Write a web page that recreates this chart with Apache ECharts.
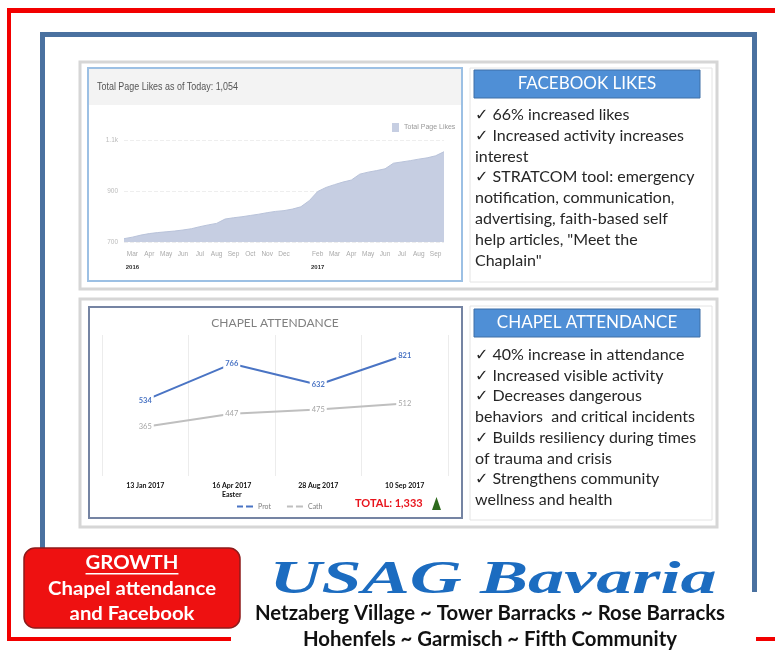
<!DOCTYPE html>
<html><head><meta charset="utf-8">
<script src="https://cdn.jsdelivr.net/npm/echarts@6.0.0/dist/echarts.min.js"></script>
<style>html,body{margin:0;padding:0;background:#fff}#c{width:775px;height:652px}</style>
</head><body><div id="c"></div>
<script>
// ---- Facebook page likes ----
const fbDates = ['2016-02-15','2016-03-01','2016-03-15','2016-04-01','2016-04-15','2016-05-01','2016-05-15',
  '2016-06-01','2016-06-15','2016-07-01','2016-07-15','2016-08-01','2016-08-15','2016-09-01','2016-09-15',
  '2016-10-01','2016-10-15','2016-11-01','2016-11-15','2016-12-01','2016-12-15','2017-01-01','2017-01-15',
  '2017-02-01','2017-02-15','2017-03-01','2017-03-15','2017-04-01','2017-04-15','2017-05-01','2017-05-15',
  '2017-06-01','2017-06-15','2017-07-01','2017-07-15','2017-08-01','2017-08-15','2017-09-01','2017-09-15'];
const fbLikes = [713,719,727,733,737,740,743,747,752,760,767,773,790,795,799,804,809,815,820,823,829,838,
  862,898,914,925,935,943,966,974,980,987,1009,1014,1019,1025,1030,1038,1054];
const monthNames = ['Jan','Feb','Mar','Apr','May','Jun','Jul','Aug','Sep','Oct','Nov','Dec'];
const yearLabelDates = ['2016-03-01','2017-02-01'];
const fbYTicks = [700, 900, 1100];
const fbTitle = 'Total Page Likes as of Today: 1,054';
const fbSeriesName = 'Total Page Likes';

// ---- Chapel attendance ----
const chapelDates = ['13 Jan 2017','16 Apr 2017\nEaster','28 Aug 2017','10 Sep 2017'];
const protValues = [534, 766, 632, 821];
const cathValues = [365, 447, 475, 512];
const chapelTitle = 'CHAPEL ATTENDANCE';
const chapelTotal = 'TOTAL: 1,333';

// ---- Slide texts ----
const fbHeader = 'FACEBOOK LIKES';
const fbBullets = ['✓ 66% increased likes','✓ Increased activity increases','interest','✓ STRATCOM tool: emergency',
  'notification, communication,','advertising, faith-based self','help articles, "Meet the','Chaplain"'];
const chapelHeader = 'CHAPEL ATTENDANCE';
const chapelBullets = ['✓ 40% increase in attendance','✓ Increased visible activity','✓ Decreases dangerous',
  'behaviors  and critical incidents','✓ Builds resiliency during times','of trauma and crisis',
  '✓ Strengthens community','wellness and health'];
const growthLines = ['GROWTH','Chapel attendance','and Facebook'];
const bannerTitle = 'USAG Bavaria';
const bannerLines = ['Netzaberg Village ~ Tower Barracks ~ Rose Barracks','Hohenfels ~ Garmisch ~ Fifth Community'];

const SANS = 'Lato, "Open Sans", "DejaVu Sans", sans-serif';
const NARROW = '"Liberation Sans", Arial, sans-serif';

const ctx = document.createElement('canvas').getContext('2d');
function measure(text, font) { ctx.font = font; return ctx.measureText(text).width; }
function fit(text, font, w) { return w / measure(text, font); }

const bannerFont = 'italic bold 46px "Liberation Serif", "DejaVu Serif", serif';
const titleFont = '11px ' + NARROW;
const growthFont = 'bold 19px ' + SANS;
const lineFont = 'bold 20px ' + SANS;
const bulletFont = '16px ' + SANS;
const growthScale = fit(growthLines[1], growthFont, 168);
const growthUnderline = measure(growthLines[0], growthFont) * growthScale;

function txt(text, x, y, font, fill, align, sx) {
  return {type:'text', z:5, x, y, scaleX: sx || 1,
    style:{text, x:0, y:0, font, fill, textAlign: align || 'left', textVerticalAlign:'middle'}};
}

const chart = echarts.init(document.getElementById('c'), null, {renderer: 'canvas'});

const elements = [
  // red frame
  {type:'rect', z:-10, shape:{x:7,y:8,width:768,height:5}, style:{fill:'#f20000'}},
  {type:'rect', z:-10, shape:{x:7,y:8,width:4,height:633}, style:{fill:'#f20000'}},
  {type:'rect', z:-10, shape:{x:7,y:637,width:224,height:4}, style:{fill:'#f20000'}},
  {type:'rect', z:-10, shape:{x:756,y:637,width:19,height:4}, style:{fill:'#f20000'}},
  // blue frame
  {type:'rect', z:-10, shape:{x:40,y:32,width:717,height:5}, style:{fill:'#4a71a0'}},
  {type:'rect', z:-10, shape:{x:40,y:32,width:5,height:516}, style:{fill:'#4a71a0'}},
  {type:'rect', z:-10, shape:{x:752,y:32,width:5,height:560}, style:{fill:'#4a71a0'}},
  // gray panels
  {type:'rect', z:-10, shape:{x:80,y:62,width:637,height:227}, style:{fill:'#fff',stroke:'#d6d6d6',lineWidth:3}},
  {type:'rect', z:-10, shape:{x:80,y:299,width:637,height:228}, style:{fill:'#fff',stroke:'#d6d6d6',lineWidth:3}},
  // facebook chart box
  {type:'rect', z:-9, shape:{x:88,y:68,width:374,height:213}, style:{fill:'#fff',stroke:'#9cc0e4',lineWidth:2}},
  {type:'rect', z:-9, shape:{x:89,y:69,width:372,height:36}, style:{fill:'#f3f3f3'}},
  txt(fbTitle, 97, 87, titleFont, '#555', 'left', fit(fbTitle, titleFont, 141)),
  // chapel chart box
  {type:'rect', z:-9, shape:{x:89,y:307,width:373,height:211}, style:{fill:'#fff',stroke:'#7584a3',lineWidth:2}},
  txt(chapelTitle, 275, 323, '12px ' + SANS, '#808080', 'center'),
  txt(chapelTotal, 355, 503, 'bold 11px ' + SANS, '#e8141c', 'left'),
  {type:'polygon', z:5, shape:{points:[[432,510],[441,510],[436.5,497]]}, style:{fill:'#2d6a1d'}},
  // text areas
  {type:'rect', z:-9, shape:{x:470,y:68,width:242,height:214}, style:{fill:'#fff',stroke:'#e4e4e4',lineWidth:1}},
  {type:'rect', z:-9, shape:{x:470,y:306,width:242,height:214}, style:{fill:'#fff',stroke:'#e4e4e4',lineWidth:1}},
  {type:'rect', z:-8, shape:{x:474,y:70,width:226,height:28}, style:{fill:'#4f8fd6',stroke:'#3e6ea6',lineWidth:1}},
  txt(fbHeader, 587, 84, '17px ' + SANS, '#fff', 'center'),
  {type:'text', z:5, style:{text:fbBullets.join('\n'), x:475, y:104.5, font:bulletFont, lineHeight:20.8, fill:'#262626', textVerticalAlign:'top'}},
  {type:'rect', z:-8, shape:{x:474,y:309,width:226,height:28}, style:{fill:'#4f8fd6',stroke:'#3e6ea6',lineWidth:1}},
  txt(chapelHeader, 587, 323, '17px ' + SANS, '#fff', 'center'),
  {type:'text', z:5, style:{text:chapelBullets.join('\n'), x:475, y:344.5, font:bulletFont, lineHeight:20.7, fill:'#262626', textVerticalAlign:'top'}},
  // growth box
  {type:'rect', z:-5, shape:{x:24,y:548,width:216,height:80,r:11}, style:{fill:'#ee1111',stroke:'#8e1b1b',lineWidth:1.5}},
  txt(growthLines[0], 132, 563, growthFont, '#fff', 'center', growthScale),
  {type:'rect', z:5, shape:{x:132 - growthUnderline/2, y:573, width:growthUnderline, height:1.5}, style:{fill:'#fff'}},
  txt(growthLines[1], 132, 589, growthFont, '#fff', 'center', growthScale),
  txt(growthLines[2], 132, 614, growthFont, '#fff', 'center', growthScale),
  // banner
  txt(bannerTitle, 493, 581, bannerFont, '#1c6cc0', 'center', fit(bannerTitle, bannerFont, 447)),
  txt(bannerLines[0], 490, 614, lineFont, '#111', 'center', fit(bannerLines[0], lineFont, 470)),
  txt(bannerLines[1], 490, 640, lineFont, '#111', 'center', fit(bannerLines[1], lineFont, 374))
];

const option = {
  animation: false,
  backgroundColor: '#ffffff',
  graphic: {elements},
  legend: [
    {data:[fbSeriesName], left:387, top:118, icon:'rect', itemWidth:7, itemHeight:9, itemGap:4,
     textStyle:{fontSize:7, color:'#999', fontFamily:NARROW}},
    {data:['Prot','Cath'], left:232, top:498, itemWidth:16, itemHeight:3, itemGap:16,
     icon:'path://M0,0h6v2h-6zM9,0h7v2h-7z',
     textStyle:{fontSize:7, color:'#808080', fontFamily:SANS}}
  ],
  grid: [
    {left:124, top:140, width:320, height:102},
    {left:102, top:335, width:346, height:141}
  ],
  xAxis: [
    {type:'category', gridIndex:0, data:fbDates, boundaryGap:false,
     axisLine:{show:false}, axisTick:{show:false},
     axisLabel:{
       interval:(i, v) => v.endsWith('-01'), fontSize:6.5, color:'#aaa', margin:9, fontFamily:NARROW,
       formatter:(v) => {
         const p = v.split('-'); const m = +p[1];
         if (m === 1) return '';
         const name = monthNames[m-1];
         return yearLabelDates.includes(v) ? name + '\n{yr|' + p[0] + '}' : name;
       },
       rich:{yr:{fontSize:6, fontWeight:'bold', color:'#333', padding:[6,0,0,0], fontFamily:NARROW}}
     },
     splitLine:{show:false}},
    {type:'category', gridIndex:1, data:chapelDates, boundaryGap:true,
     axisLine:{show:false}, axisTick:{show:false},
     axisLabel:{fontSize:7, fontWeight:'bold', color:'#111', margin:5, lineHeight:9, fontFamily:SANS},
     splitLine:{show:true, lineStyle:{color:'#ececec', width:1}}}
  ],
  yAxis: [
    {type:'value', gridIndex:0, min:fbYTicks[0], max:fbYTicks[fbYTicks.length-1], interval:fbYTicks[1]-fbYTicks[0],
     axisLine:{show:false}, axisTick:{show:false},
     axisLabel:{fontSize:6.5, color:'#bbb', margin:6, fontFamily:NARROW,
       formatter:(v) => v >= 1000 ? (v/1000) + 'k' : String(v)},
     splitLine:{lineStyle:{color:'#eeeeee', type:'dashed'}}},
    {type:'value', gridIndex:1, min:50, max:950, show:false, splitLine:{show:false}}
  ],
  series: [
    {name:fbSeriesName, type:'line', xAxisIndex:0, yAxisIndex:0, data:fbLikes, symbol:'none',
     lineStyle:{color:'#b9c3da', width:1}, itemStyle:{color:'#c6cee2'},
     areaStyle:{color:'#c6cee2', opacity:1}},
    {name:'Prot', type:'line', xAxisIndex:1, yAxisIndex:1, data:protValues, symbol:'circle', symbolSize:0,
     lineStyle:{color:'#4a74c4', width:2}, itemStyle:{color:'#4a74c4'},
     label:{show:true, position:'inside', color:'#4a74c4', fontSize:7.5, fontWeight:'bold', fontFamily:SANS,
       backgroundColor:'#fff', padding:[1,2]}},
    {name:'Cath', type:'line', xAxisIndex:1, yAxisIndex:1, data:cathValues, symbol:'circle', symbolSize:0,
     lineStyle:{color:'#bfbfbf', width:2}, itemStyle:{color:'#bfbfbf'},
     label:{show:true, position:'inside', color:'#a6a6a6', fontSize:7.5, fontFamily:SANS,
       backgroundColor:'#fff', padding:[1,2]}}
  ]
};
chart.setOption(option);
</script>
</body></html>
